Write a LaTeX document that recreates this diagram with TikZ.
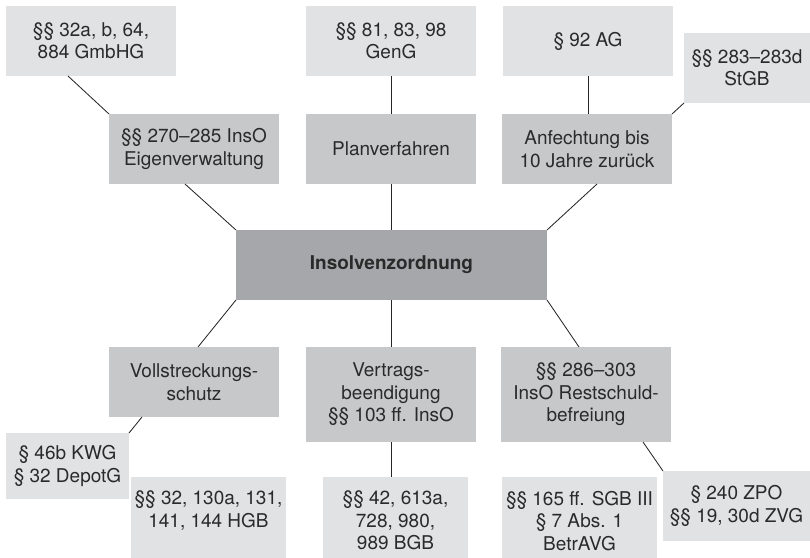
\documentclass[tikz,border=0pt]{standalone}
\usepackage{fontspec}
\setmainfont{TeX Gyre Heros}
\usepackage{tikz}
\usetikzlibrary{calc}
\definecolor{boxlight}{HTML}{E1E2E4}
\definecolor{boxmid}{HTML}{C7C8CA}
\definecolor{boxdark}{HTML}{A6A7AA}
\definecolor{inkgray}{HTML}{2A2A2A}
\tikzstyle{Box} = [rectangle, inner sep=0pt, outer sep=0pt, align=center, text=inkgray, font=\fontsize{13.5}{16}\selectfont, minimum width=4.25cm, minimum height=1.75cm]
\tikzstyle{Light} = [Box, fill=boxlight]
\tikzstyle{Mid} = [Box, fill=boxmid]
\tikzstyle{Dark} = [Box, fill=boxdark]
\tikzstyle{Bottom} = [Light, anchor=north, minimum height=0pt, inner ysep=0.35cm, text depth=2.5cm]
\tikzstyle{link} = [draw=black!85, line width=0.6pt]

\begin{document}
\begin{tikzpicture}[x=0.025cm, y=-0.025cm]
\useasboundingbox (0,0) rectangle (810,558);
\clip (0,0) rectangle (810,558);

% upper row
\node (gmbhg)[Light] at (91,41) {§§ 32a, b, 64,\\884 GmbHG};
\node (geng)[Light] at (391,41) {§§ 81, 83, 98\\GenG};
\node (ag)[Light] at (588,41) {§ 92 AG};
\node (stgb)[Light, minimum width=3.15cm] at (747,68) {§§ 283–283d\\StGB};

\node (eigen)[Mid] at (194,149) {§§ 270–285 InsO\\Eigenverwaltung};
\node (plan)[Mid] at (391,149) {Planverfahren};
\node (anf)[Mid] at (587,149) {Anfechtung bis\\10 Jahre zurück};

% centre
\node (ins)[Dark, minimum width=7.775cm] at (391.5,265) {\textbf{Insolvenzordnung}};

% lower row
\node (voll)[Mid] at (194,382) {Vollstreckungs-\\schutz};
\node (vertrag)[Mid, minimum height=2.375cm] at (391,394.5) {Vertrags-\\beendigung\\§§ 103 ff. InsO};
\node (rest)[Mid, minimum height=2.375cm] at (586,394.5) {§§ 286–303\\InsO Restschuld-\\befreiung};

\node (kwg)[Light, minimum width=3.075cm, minimum height=1.65cm] at (67.5,466) {§ 46b KWG\\§ 32 DepotG};
\node (hgb)[Bottom, minimum width=3.875cm] at (208.5,477) {§§ 32, 130a, 131,\\141, 144 HGB};
\node (bgb)[Bottom, minimum width=3.625cm] at (395.5,477) {§§ 42, 613a,\\728, 980,\\989 BGB};
\node (sgb)[Bottom, minimum width=3.875cm] at (579.5,477) {§§ 165 ff. SGB III\\§ 7 Abs. 1\\BetrAVG};
\node (zpo)[Light, minimum width=3.675cm] at (736.5,506) {§ 240 ZPO\\§§ 19, 30d ZVG};

\draw[link]($(gmbhg.south)+(-23,0)$)--(eigen.north west);
\draw[link]($(eigen.south)+(-9,0)$)--(ins.north west);
\draw[link](geng.south)--(plan.north);
\draw[link](plan.south)--(plan.south |- ins.north);
\draw[link](ag.south)--(ag.south |- anf.north);
\draw[link](anf.north east)--(stgb.south west);
\draw[link]($(anf.south)+(10,0)$)--(ins.north east);

\draw[link](ins.south west)--($(voll.north)+(4,0)$);
\draw[link](vertrag.north |- ins.south)--(vertrag.north);
\draw[link](ins.south east)--($(rest.north)+(-7,0)$);
\draw[link]($(voll.south)+(-52,0)$)--(kwg.north east);
\draw[link]($(voll.south)+(12,0)$)--($(voll.south)+(12,0)$ |- hgb.north);
\draw[link](vertrag.south)--(vertrag.south |- bgb.north);
\draw[link]($(rest.south)+(-2,0)$)--($(rest.south)+(-2,0)$ |- sgb.north);
\draw[link]($(rest.south)+(57,0)$)--(zpo.north west);

\end{tikzpicture}
\end{document}
